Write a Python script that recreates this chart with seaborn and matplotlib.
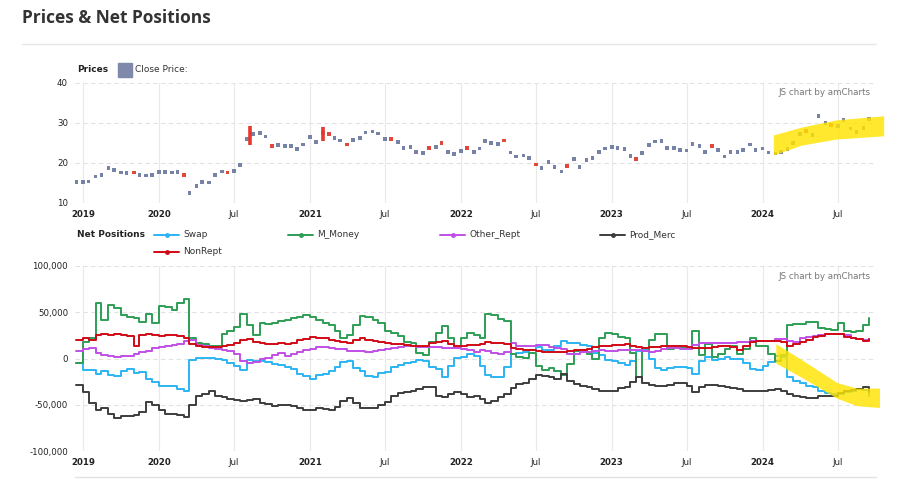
import pandas as pd
import matplotlib
matplotlib.use("Agg")
import matplotlib.pyplot as plt
from matplotlib.lines import Line2D
from matplotlib.patches import Rectangle
import seaborn as sns

# semi-monthly sample dates (1st / 15th)
dates = pd.date_range("2019-06-15", "2024-09-15", freq="SMS")

# close price (silver), per half month
price = [
    15.2, 15.2, 15.4, 16.6, 17.0, 18.8, 18.2, 17.6, 17.5, 17.6, 17.0, 16.9, 17.0,
    17.8, 17.8, 17.6, 17.8, 17.0, 12.5, 14.2, 15.3, 15.1, 17.0, 17.9, 17.6,
    18.0, 19.5, 26.0, 27.2, 27.5, 26.6, 24.3, 24.5, 24.3, 24.2, 23.5, 24.6,
    26.5, 25.3, 27.5, 27.3, 26.3, 25.6, 24.6, 25.7, 26.2, 27.6, 27.9, 27.4,
    26.0, 26.0, 25.2, 23.8, 24.0, 22.8, 22.5, 23.8, 24.0, 25.0, 22.8, 22.2,
    23.0, 23.7, 22.8, 23.6, 25.5, 25.0, 24.7, 25.6, 22.6, 21.6, 21.9, 21.3,
    19.6, 18.8, 20.2, 19.0, 17.9, 19.2, 21.0, 19.0, 20.8, 21.3, 22.8, 23.6,
    24.0, 23.8, 23.5, 21.8, 21.0, 22.5, 24.5, 25.4, 25.5, 23.7, 23.8, 23.2,
    23.1, 24.8, 24.2, 22.7, 24.2, 23.2, 21.6, 22.8, 22.8, 23.2, 24.6, 23.3,
    23.6, 22.6, 22.4, 22.8, 23.5, 25.0, 27.2, 28.0, 27.0, 31.8, 30.0, 29.5,
    29.2, 30.8, 28.6, 27.8, 28.7, 31.0,
]
# weeks drawn in red on the price chart
red_dates = ["2019-11-01", "2020-03-01", "2020-06-15", "2020-10-01", "2021-02-15",
             "2021-04-01", "2021-07-15", "2021-10-15", "2021-11-15", "2022-01-15",
             "2022-04-15", "2022-07-01", "2022-09-15", "2023-03-01", "2023-09-01",
             "2024-04-15", "2024-06-15"]
# the two tall red candles
candle_dates = ["2020-08-08", "2021-02-01"]
candle_low = [24.5, 25.5]
candle_high = [29.2, 29.0]

# net positions, thousands of contracts
swap = [
    -5, -12, -12, -17, -14, -18, -19, -13, -11, -16, -15, -22, -25, -30, -30, -30,
    -33, -35, -2, 1, 1, 1, 0, -2, -5, -8, -12, -2, -3, -3, -4, -6,
    -7, -9, -11, -17, -19, -22, -18, -17, -13, -9, -4, -3, -10, -13, -19, -20,
    -16, -15, -9, -7, -5, -4, -2, -3, -9, -11, -20, -8, 1, 2, 5, 3,
    -8, -18, -20, -20, -9, 5, 6, 7, 9, 12, 9, 9, 14, 19, 17, 17,
    15, 14, 6, 4, -2, -3, -5, -7, -3, 8, 10, -1, -10, -12, -10, -9,
    -9, -10, -17, -3, 2, -2, 0, 2, 0, -1, -5, -11, -12, -8, -4, 3,
    2, -20, -24, -27, -30, -31, -35, -37, -38, -38, -36, -35, -33, -34, -40,
]
m_money = [
    -5, 18, 22, 60, 42, 58, 55, 47, 45, 44, 40, 48, 38, 57, 56, 52,
    60, 64, 22, 17, 16, 14, 14, 27, 30, 34, 48, 36, 25, 38, 37, 38,
    41, 42, 44, 45, 47, 45, 42, 38, 36, 30, 22, 25, 36, 46, 45, 42,
    38, 30, 28, 24, 18, 17, 6, 4, 18, 28, 35, 22, 12, 22, 28, 25,
    22, 48, 47, 43, 41, 5, 2, 1, 6, -8, -12, -10, -14, -18, -6, 8,
    9, 5, 0, 22, 28, 27, 23, 22, 6, -20, 8, 20, 27, 27, 10, 12,
    11, 11, 30, 4, 16, 2, 5, 10, 13, 5, 10, 22, 14, 14, 5, -3,
    4, 36, 37, 37, 40, 39, 33, 32, 31, 38, 30, 29, 30, 36, 44,
]
other_rept = [
    8, 10, 11, 6, 4, 3, 2, 3, 3, 5, 7, 8, 11, 12, 13, 15,
    16, 19, 20, 15, 13, 11, 10, 9, 8, 5, -3, -5, -4, 0, 1, 4,
    6, 3, 5, 7, 9, 10, 12, 12, 11, 10, 10, 8, 8, 8, 7, 8,
    9, 10, 11, 12, 13, 13, 12, 12, 12, 12, 11, 11, 11, 10, 9, 7,
    9, 8, 6, 5, 7, 17, 14, 13, 13, 15, 15, 12, 11, 10, 5, 5,
    7, 7, 8, 9, 8, 8, 9, 9, 9, 9, 8, 7, 8, 10, 11, 11,
    10, 10, 15, 17, 17, 17, 17, 17, 17, 18, 18, 19, 19, 19, 19, 21,
    21, 19, 18, 22, 23, 24, 25, 26, 26, 26, 25, 22, 21, 20, 21,
]
prod_merc = [
    -29, -36, -48, -56, -54, -60, -64, -62, -62, -61, -58, -47, -50, -56, -60, -60,
    -61, -63, -50, -41, -38, -35, -40, -42, -44, -45, -46, -45, -44, -48, -49, -51,
    -50, -50, -51, -54, -56, -56, -54, -55, -56, -52, -46, -43, -48, -53, -54, -53,
    -50, -47, -40, -37, -36, -35, -33, -31, -31, -40, -42, -38, -36, -38, -42, -40,
    -44, -48, -46, -42, -38, -32, -28, -26, -22, -18, -19, -20, -22, -17, -24, -28,
    -30, -31, -33, -35, -35, -35, -32, -31, -25, -20, -26, -29, -30, -30, -29, -27,
    -27, -30, -36, -31, -29, -29, -30, -31, -32, -33, -35, -35, -35, -35, -34, -33,
    -35, -38, -40, -42, -43, -43, -41, -41, -40, -37, -35, -34, -33, -31, -36,
]
non_rept = [
    20, 22, 20, 25, 26, 25, 26, 25, 24, 14, 25, 26, 25, 24, 25, 25,
    24, 22, 16, 13, 12, 12, 12, 13, 15, 17, 20, 21, 18, 17, 16, 16,
    17, 16, 17, 20, 21, 23, 22, 22, 20, 19, 18, 17, 20, 22, 20, 19,
    18, 17, 16, 16, 15, 14, 13, 13, 17, 18, 19, 16, 14, 14, 15, 15,
    16, 18, 17, 17, 16, 11, 10, 9, 9, 8, 7, 7, 7, 7, 8, 9,
    9, 10, 12, 13, 14, 15, 15, 16, 14, 12, 11, 12, 12, 13, 14, 14,
    13, 12, 11, 11, 11, 12, 13, 13, 12, 9, 14, 18, 19, 19, 19, 19,
    18, 13, 16, 18, 20, 23, 24, 26, 27, 26, 23, 22, 21, 19, 21,
]

series_names = ["Swap", "M_Money", "Other_Rept", "Prod_Merc", "NonRept"]
series_colors = ["#2bb5f3", "#2e9e55", "#c04fe6", "#3d3d3d", "#d10a16"]

tick_dates = ["2019-07-01", "2020-01-01", "2020-07-01", "2021-01-01", "2021-07-01",
              "2022-01-01", "2022-07-01", "2023-01-01", "2023-07-01", "2024-01-01",
              "2024-07-01"]
tick_labels = ["2019", "2020", "Jul", "2021", "Jul", "2022", "Jul", "2023", "Jul",
               "2024", "Jul"]

# hand-drawn yellow highlighter strokes
hl_top_dates = ["2024-01-27", "2024-04-05", "2024-06-28", "2024-10-20"]
hl_top_hi = [27.0, 29.0, 30.8, 31.8]
hl_top_lo = [22.0, 24.5, 26.0, 26.8]
hl_bot_dates = ["2024-02-02", "2024-04-07", "2024-06-29", "2024-08-16", "2024-10-10"]
hl_bot_hi = [16, -2, -26, -32, -32]
hl_bot_lo = [-5, -21, -43, -51, -53]

net = pd.DataFrame({"date": dates, "Swap": swap, "M_Money": m_money,
                    "Other_Rept": other_rept, "Prod_Merc": prod_merc,
                    "NonRept": non_rept})
long = net.melt(id_vars="date", var_name="series", value_name="value")
long["value"] = long["value"] * 1000
prices = pd.DataFrame({"date": dates, "close": price})
prices["red"] = prices["date"].isin(pd.to_datetime(red_dates))

sns.set_theme(style="white")
plt.rcParams["font.family"] = ["DejaVu Sans"]

W, H = 900, 480
fig = plt.figure(figsize=(9, 4.8), dpi=100)
fig.patch.set_facecolor("white")


def fx(px):
    return px / W


def fy(py):
    return 1 - py / H


fig.text(fx(22), fy(18), "Prices & Net Positions", fontsize=12.5, fontweight="bold",
         color="#333333", va="center", ha="left", family=["Open Sans", "DejaVu Sans"])
fig.add_artist(Line2D([fx(22), fx(876)], [fy(44), fy(44)], color="#e8e8e8", lw=1))
fig.add_artist(Line2D([fx(75), fx(876)], [fy(477), fy(477)], color="#e3e3e3", lw=1))

ax1 = fig.add_axes([fx(75), fy(203), 800 / W, 120 / H])
ax2 = fig.add_axes([fx(75), fy(451), 800 / W, 185 / H])
xmin, xmax = pd.Timestamp("2019-06-12"), pd.Timestamp("2024-09-29")

# price panel
sns.scatterplot(data=prices[~prices["red"]], x="date", y="close", ax=ax1, marker="s",
                s=7, color="#7783a6", edgecolor="none", zorder=3)
sns.scatterplot(data=prices[prices["red"]], x="date", y="close", ax=ax1, marker="s",
                s=7, color="#e2473c", edgecolor="none", zorder=3)
ax1.vlines(pd.to_datetime(candle_dates), candle_low, candle_high, color="#e8372c",
           lw=2.6, zorder=3)
ax1.set_ylim(10, 40)
ax1.set_yticks([10, 20, 30, 40])
hl = ax1.fill_between(pd.to_datetime(hl_top_dates), hl_top_lo, hl_top_hi,
                      color="#ffe400", alpha=0.82, lw=0, zorder=4)
hl.set_clip_on(False)

# net positions panel
sns.lineplot(data=long, x="date", y="value", hue="series", hue_order=series_names,
             palette=series_colors, ax=ax2, drawstyle="steps-post", lw=1.4,
             legend=False, zorder=3)
ax2.set_ylim(-100000, 100000)
ax2.set_yticks([-100000, -50000, 0, 50000, 100000])
ax2.set_yticklabels([f"{v:,}" for v in [-100000, -50000, 0, 50000, 100000]])
hl = ax2.fill_between(pd.to_datetime(hl_bot_dates), [v * 1000 for v in hl_bot_lo],
                      [v * 1000 for v in hl_bot_hi], color="#ffe400", alpha=0.82,
                      lw=0, zorder=4)
hl.set_clip_on(False)

for ax in (ax1, ax2):
    ax.set_xlim(xmin, xmax)
    ax.set_xticks(pd.to_datetime(tick_dates))
    ax.set_xticklabels(tick_labels)
    for lab in ax.get_xticklabels():
        if lab.get_text() != "Jul":
            lab.set_fontweight("bold")
    ax.set_xlabel("")
    ax.set_ylabel("")
    ax.tick_params(axis="both", length=0, labelsize=6.2, colors="#222222")
    ax.tick_params(axis="x", pad=5)
    ax.tick_params(axis="y", pad=5)
    ax.grid(axis="x", color="#e9e9e9", lw=0.8, ls="-")
    ax.grid(axis="y", color="#e2e2e2", lw=0.8, ls=(0, (4, 3)))
    ax.set_axisbelow(True)
    sns.despine(ax=ax, left=True, bottom=True)
    ax.text(0.995, 0.92, "JS chart by amCharts", transform=ax.transAxes, ha="right",
            va="center", fontsize=6.3, color="#777777")

ax2.texts[-1].set_position((0.995, 0.945))

# legends
fig.text(fx(77), fy(70), "Prices", fontsize=6.5, fontweight="bold", color="#222222",
         va="center")
fig.add_artist(Rectangle((fx(118), fy(77)), 14 / W, 14 / H, color="#7f89a9",
                         transform=fig.transFigure))
fig.text(fx(135), fy(70), "Close Price:", fontsize=6.5, color="#333333", va="center")

fig.text(fx(77), fy(235), "Net Positions", fontsize=6.5, fontweight="bold",
         color="#222222", va="center")
legend_pos = [(154, 235), (288, 235), (440, 235), (600, 235), (154, 252)]
for name, col, (px, py) in zip(series_names, series_colors, legend_pos):
    fig.add_artist(Line2D([fx(px), fx(px + 25)], [fy(py), fy(py)], color=col, lw=1.4))
    fig.add_artist(Line2D([fx(px + 12.5)], [fy(py)], color=col, marker="o", ms=2.5))
    fig.text(fx(px + 29), fy(py), name, fontsize=6.5, color="#333333", va="center")

fig.savefig("out.png", dpi=100, facecolor="white")
